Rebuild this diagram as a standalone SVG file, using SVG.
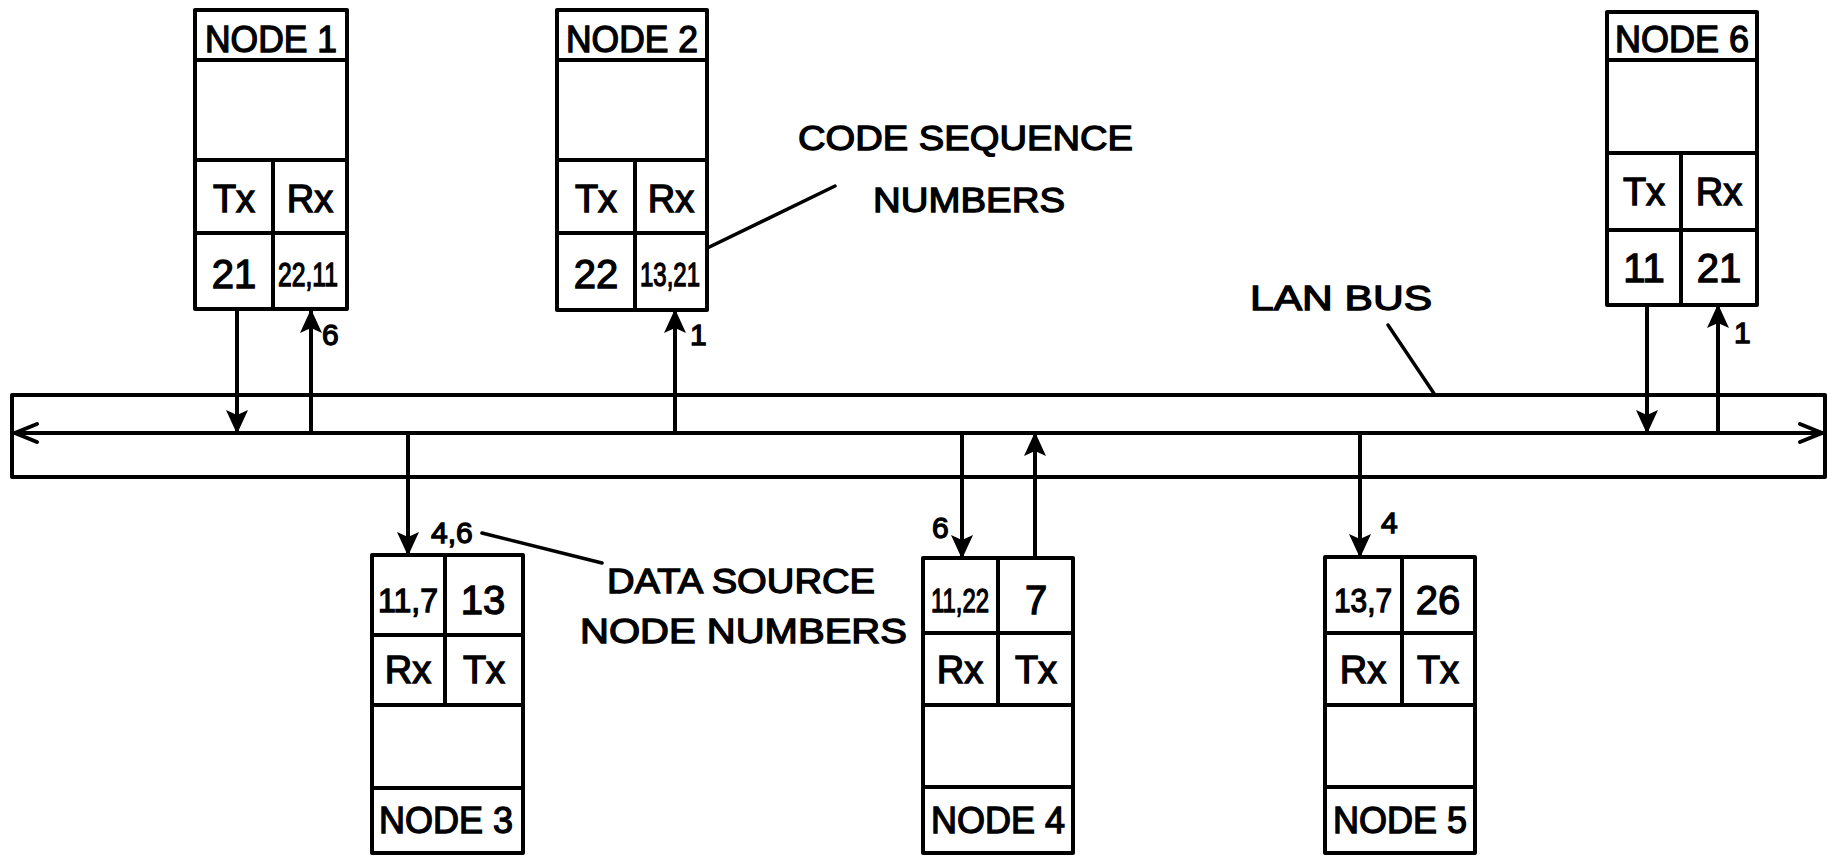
<svg xmlns="http://www.w3.org/2000/svg" width="1830" height="859" viewBox="0 0 1830 859">
<defs>
<style>
.box{fill:#fff;stroke:#000;stroke-width:4;stroke-linejoin:round}
.ln{fill:none;stroke:#000;stroke-width:4;stroke-linecap:round}
.thin{fill:none;stroke:#000;stroke-width:3.5;stroke-linecap:round}
text{font-family:"Liberation Sans",Arial,sans-serif;fill:#000;stroke:#000;stroke-width:1.3}
.t{font-size:36px;text-anchor:middle}
.c{font-size:38px;text-anchor:middle}
.n{font-size:40px;text-anchor:middle}
.s{font-size:33px;text-anchor:middle}
.lab{font-size:35px}
.al{font-size:30px}
</style>
<marker id="ah" markerWidth="24" markerHeight="22" refX="23" refY="11" orient="auto" markerUnits="userSpaceOnUse">
<path d="M0,0 L24,11 L0,22 L5,11 Z" fill="#000"/>
</marker>
</defs>

<g id="bus">
<rect x="12" y="395" width="1813" height="82" class="box"/>
</g>

<g id="connectors">
<line x1="15" y1="433" x2="1822" y2="433" class="ln"/>
<polyline points="37,424 15,433 37,442" class="ln"/>
<polyline points="1800,424 1822,433 1800,442" class="ln"/>
<line x1="237" y1="309" x2="237" y2="433" class="ln" marker-end="url(#ah)"/>
<line x1="311" y1="433" x2="311" y2="310" class="ln" marker-end="url(#ah)"/>
<line x1="675" y1="433" x2="675" y2="310" class="ln" marker-end="url(#ah)"/>
<line x1="1647" y1="305" x2="1647" y2="433" class="ln" marker-end="url(#ah)"/>
<line x1="1718" y1="433" x2="1718" y2="305" class="ln" marker-end="url(#ah)"/>
<line x1="408" y1="433" x2="408" y2="555" class="ln" marker-end="url(#ah)"/>
<line x1="962" y1="433" x2="962" y2="558" class="ln" marker-end="url(#ah)"/>
<line x1="1035" y1="558" x2="1035" y2="433" class="ln" marker-end="url(#ah)"/>
<line x1="1360" y1="433" x2="1360" y2="557" class="ln" marker-end="url(#ah)"/>
<line x1="835" y1="186" x2="697" y2="253" class="thin"/>
<line x1="1388" y1="325" x2="1435" y2="395" class="thin"/>
<line x1="482" y1="533" x2="602" y2="563" class="thin"/>
</g>

<g id="node1">
<rect x="195" y="10" width="152" height="299" class="box"/>
<line x1="195" y1="60" x2="347" y2="60" class="ln"/>
<line x1="195" y1="160" x2="347" y2="160" class="ln"/>
<line x1="195" y1="233" x2="347" y2="233" class="ln"/>
<line x1="273" y1="160" x2="273" y2="309" class="ln"/>
<text x="271" y="52" class="t" textLength="132" lengthAdjust="spacingAndGlyphs">NODE 1</text>
<text x="234" y="212" class="c">Tx</text>
<text x="310" y="212" class="c">Rx</text>
<text x="234" y="288" class="n">21</text>
<text x="308" y="286" class="s" textLength="60" lengthAdjust="spacingAndGlyphs">22,11</text>
</g>

<g id="node2">
<rect x="557" y="10" width="150" height="300" class="box"/>
<line x1="557" y1="60" x2="707" y2="60" class="ln"/>
<line x1="557" y1="160" x2="707" y2="160" class="ln"/>
<line x1="557" y1="233" x2="707" y2="233" class="ln"/>
<line x1="635" y1="160" x2="635" y2="310" class="ln"/>
<text x="632" y="52" class="t" textLength="132" lengthAdjust="spacingAndGlyphs">NODE 2</text>
<text x="596" y="212" class="c">Tx</text>
<text x="671" y="212" class="c">Rx</text>
<text x="596" y="288" class="n">22</text>
<text x="670" y="286" class="s" textLength="60" lengthAdjust="spacingAndGlyphs">13,21</text>
</g>

<g id="node6">
<rect x="1607" y="12" width="150" height="293" class="box"/>
<line x1="1607" y1="60" x2="1757" y2="60" class="ln"/>
<line x1="1607" y1="153" x2="1757" y2="153" class="ln"/>
<line x1="1607" y1="230" x2="1757" y2="230" class="ln"/>
<line x1="1681" y1="153" x2="1681" y2="305" class="ln"/>
<text x="1682" y="52" class="t" textLength="134" lengthAdjust="spacingAndGlyphs">NODE 6</text>
<text x="1644" y="205" class="c">Tx</text>
<text x="1719" y="205" class="c">Rx</text>
<text x="1644" y="282" class="n">11</text>
<text x="1719" y="282" class="n">21</text>
</g>

<g id="node3">
<rect x="372" y="555" width="151" height="298" class="box"/>
<line x1="372" y1="635" x2="523" y2="635" class="ln"/>
<line x1="372" y1="705" x2="523" y2="705" class="ln"/>
<line x1="372" y1="788" x2="523" y2="788" class="ln"/>
<line x1="445" y1="555" x2="445" y2="705" class="ln"/>
<text x="408" y="612" class="s" textLength="60" lengthAdjust="spacingAndGlyphs">11,7</text>
<text x="483" y="614" class="n">13</text>
<text x="408" y="683" class="c">Rx</text>
<text x="484" y="683" class="c">Tx</text>
<text x="446" y="833" class="t" textLength="134" lengthAdjust="spacingAndGlyphs">NODE 3</text>
</g>

<g id="node4">
<rect x="923" y="558" width="150" height="295" class="box"/>
<line x1="923" y1="633" x2="1073" y2="633" class="ln"/>
<line x1="923" y1="705" x2="1073" y2="705" class="ln"/>
<line x1="923" y1="787" x2="1073" y2="787" class="ln"/>
<line x1="998" y1="558" x2="998" y2="705" class="ln"/>
<text x="960" y="612" class="s" textLength="58" lengthAdjust="spacingAndGlyphs">11,22</text>
<text x="1036" y="614" class="n">7</text>
<text x="960" y="683" class="c">Rx</text>
<text x="1036" y="683" class="c">Tx</text>
<text x="998" y="833" class="t" textLength="134" lengthAdjust="spacingAndGlyphs">NODE 4</text>
</g>

<g id="node5">
<rect x="1325" y="557" width="150" height="296" class="box"/>
<line x1="1325" y1="633" x2="1475" y2="633" class="ln"/>
<line x1="1325" y1="705" x2="1475" y2="705" class="ln"/>
<line x1="1325" y1="787" x2="1475" y2="787" class="ln"/>
<line x1="1402" y1="557" x2="1402" y2="705" class="ln"/>
<text x="1363" y="612" class="s" textLength="58" lengthAdjust="spacingAndGlyphs">13,7</text>
<text x="1438" y="614" class="n">26</text>
<text x="1363" y="683" class="c">Rx</text>
<text x="1438" y="683" class="c">Tx</text>
<text x="1400" y="833" class="t" textLength="134" lengthAdjust="spacingAndGlyphs">NODE 5</text>
</g>

<g id="labels">
<text x="798" y="150" class="lab" textLength="335" lengthAdjust="spacingAndGlyphs">CODE SEQUENCE</text>
<text x="873" y="212" class="lab" textLength="192" lengthAdjust="spacingAndGlyphs">NUMBERS</text>
<text x="1250" y="310" class="lab" textLength="182" lengthAdjust="spacingAndGlyphs">LAN BUS</text>
<text x="607" y="593" class="lab" textLength="268" lengthAdjust="spacingAndGlyphs">DATA SOURCE</text>
<text x="580" y="643" class="lab" textLength="327" lengthAdjust="spacingAndGlyphs">NODE NUMBERS</text>
<text x="322" y="345" class="al">6</text>
<text x="690" y="345" class="al">1</text>
<text x="1734" y="343" class="al">1</text>
<text x="431" y="543" class="al">4,6</text>
<text x="932" y="538" class="al">6</text>
<text x="1381" y="533" class="al">4</text>
</g>
</svg>
